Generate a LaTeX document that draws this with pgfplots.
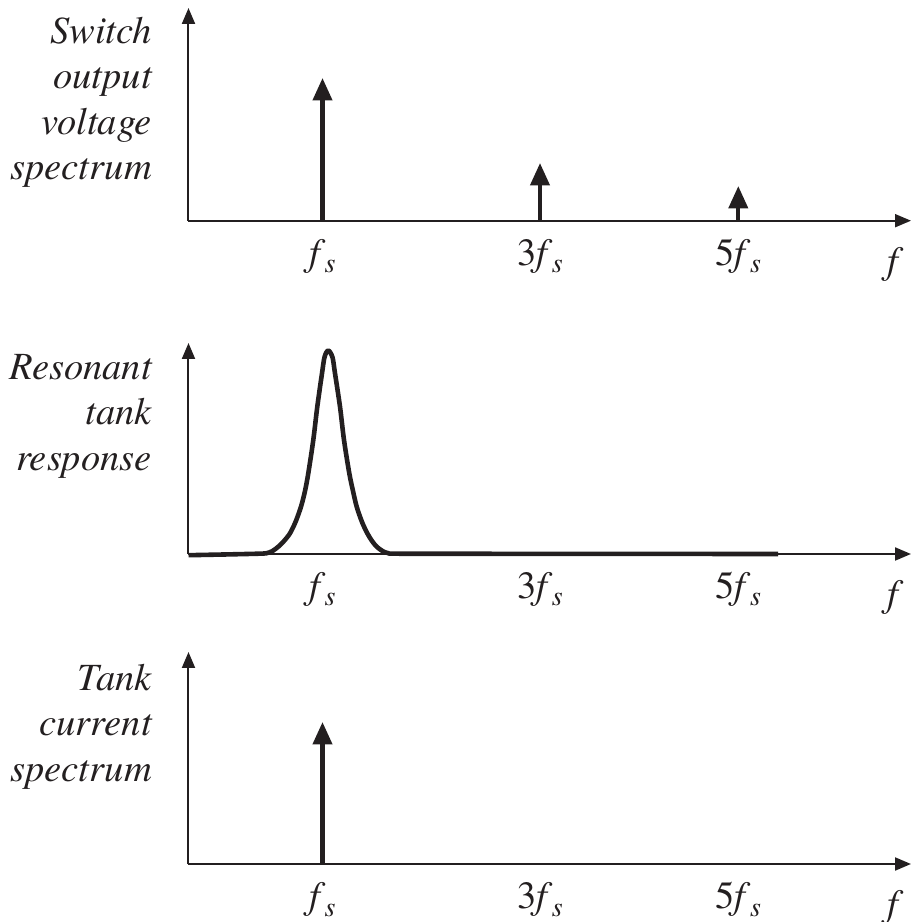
\documentclass[border=0pt]{standalone}
\usepackage{pgfplots}
\pgfplotsset{compat=1.18}
\usepackage{fontspec}
\setmainfont{texgyretermes}[Extension=.otf, UprightFont=*-regular, ItalicFont=*-italic, BoldFont=*-bold, BoldItalicFont=*-bolditalic]
\usetikzlibrary{arrows.meta}
\definecolor{ink}{RGB}{35,31,32}
\newcommand{\fs}{\textit{f}\kern-1pt\raisebox{-7.5pt}{\fontsize{28}{28}\selectfont\textit{s}}}
\newcommand{\lonef}{\raisebox{-8pt}{\textit{f}}}
\pgfplotsset{
  panel/.style={
    scale only axis, width=722.5pt, xmin=0, xmax=722.5, ymin=0, clip=false,
    axis lines=left,
    axis line style={line width=2pt, ink, -{Triangle[width=13pt,length=16pt]}},
    ytick=\empty,
    xtick={134,351.5,549.8,707},
    xticklabels={\fs, 3\fs, 5\fs, \lonef},
    major tick length=0pt,
    xticklabel style={anchor=base, yshift=-44.5pt, inner sep=0pt,
      font=\fontsize{38.5}{38.5}\selectfont, text=ink},
  },
  spike/.style={line width=4.3pt, ink, -{Triangle[width=19pt,length=22.5pt]}, mark=none},
}
\tikzset{
  lab/.style={anchor=north east, align=right, inner sep=0pt, xshift=-36.5pt,
    font=\fontsize{38.5}{45.5}\selectfont\itshape, text=ink},
}
\begin{document}
\begin{tikzpicture}
\useasboundingbox (0,0) rectangle (911pt,922pt);
% Panel 1
\begin{axis}[panel, at={(188.5pt,701.3pt)}, anchor=south west, height=212.7pt, ymax=212.7]
  \addplot[spike] coordinates {(134,0) (134,142.7)};
  \addplot[spike] coordinates {(351.5,0) (351.5,57.7)};
  \addplot[spike] coordinates {(549.8,0) (549.8,34.7)};
  \node[lab, yshift=-9pt] at (axis description cs:0,1) {Switch\\output\\voltage\\spectrum};
\end{axis}
% Panel 2
\begin{axis}[panel, at={(188.5pt,368pt)}, anchor=south west, height=211pt, ymax=211]
  \addplot[line width=4.6pt, ink, smooth, mark=none, line join=round] coordinates {
    (0,-1.2) (40,-0.4) (70,0.3) (78.2,0.8) (84,3) (89.8,7.3) (95.5,13) (101.5,20.7)
    (107,32) (112.5,47.3) (116.5,63) (119.8,80.7) (124.8,114) (128.8,147.3)
    (133.5,180.7) (135.8,196) (137.8,201.5) (139.8,203.5) (141.8,201.5) (144.2,196)
    (146.5,180.7) (151.5,147.3) (155.5,114) (160.8,80.7) (164.5,63) (168.2,47.3)
    (173.5,32) (178.8,20.7) (183.5,13) (188.2,7.3) (194,3) (199.8,0.8) (210,0.3)
    (300,0.2) (450,0.1) (589.5,0)
  };
  \node[lab, yshift=-11pt] at (axis description cs:0,1) {Resonant\\tank\\response};
\end{axis}
% Panel 3
\begin{axis}[panel, at={(188.5pt,58pt)}, anchor=south west, height=212pt, ymax=212]
  \addplot[spike] coordinates {(134,0) (134,142)};
  \node[lab, yshift=-12pt] at (axis description cs:0,1) {Tank\\current\\spectrum};
\end{axis}
\end{tikzpicture}
\end{document}
